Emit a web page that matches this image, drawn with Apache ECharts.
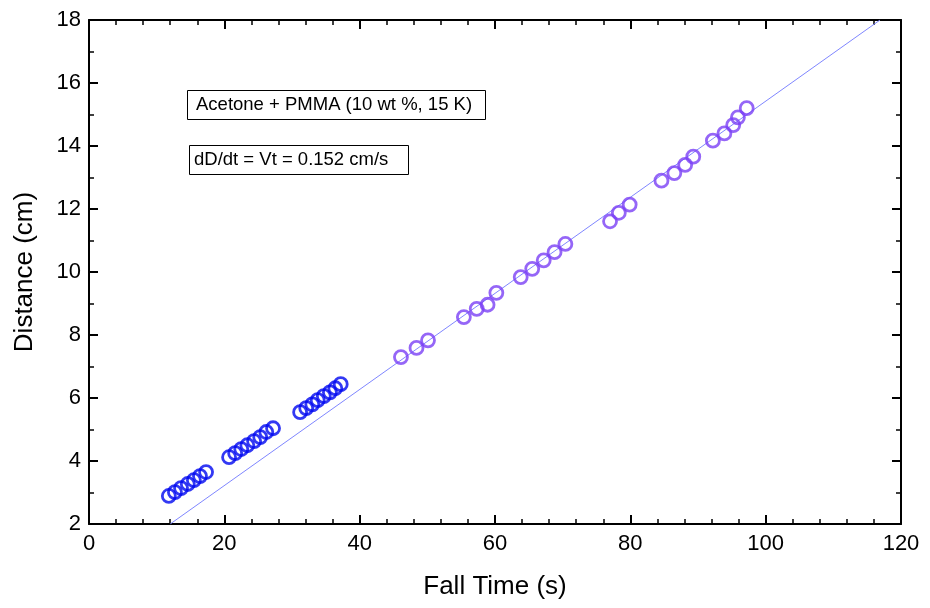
<!DOCTYPE html>
<html>
<head>
<meta charset="utf-8">
<script src="https://cdn.jsdelivr.net/npm/echarts@6/dist/echarts.min.js"></script>
<style>
  html, body { margin: 0; padding: 0; background: #fff; }
  #main { width: 930px; height: 608px; }
</style>
</head>
<body>
<div id="main"></div>
<script>
// first run (blue) - fall time (s), distance (cm)
var run1Time = [11.8, 12.7, 13.6, 14.6, 15.5, 16.4, 17.3,
                20.7, 21.6, 22.5, 23.4, 24.4, 25.3, 26.2, 27.2,
                31.2, 32.1, 33.0, 33.8, 34.7, 35.6, 36.4, 37.2];
var run1Dist = [2.89, 3.01, 3.14, 3.27, 3.39, 3.52, 3.65,
                4.12, 4.25, 4.38, 4.50, 4.63, 4.76, 4.92, 5.04,
                5.55, 5.68, 5.80, 5.93, 6.06, 6.18, 6.31, 6.44];
// second run (purple)
var run2Time = [46.1, 48.4, 50.1, 55.4, 57.3, 58.9, 60.2,
                63.8, 65.5, 67.2, 68.8, 70.4,
                77.0, 78.3, 79.9,
                84.6, 86.5, 88.1, 89.3,
                92.2, 93.9, 95.2, 95.9, 97.2];
var run2Dist = [7.30, 7.59, 7.83, 8.57, 8.83, 8.96, 9.34,
                9.84, 10.10, 10.37, 10.63, 10.89,
                11.61, 11.88, 12.14,
                12.90, 13.14, 13.40, 13.66,
                14.17, 14.40, 14.66, 14.91, 15.20];
// linear fit, dD/dt = 0.152 cm/s
var fitTime = [12.0, 116.9];
var fitDist = [2.0, 18.0];

function pairs(xs, ys) {
  var res = [];
  for (var i = 0; i < xs.length; i++) res.push([xs[i], ys[i]]);
  return res;
}

var FONT = '"Liberation Sans", Arial, sans-serif';
var axLine = { onZero: false, lineStyle: { color: '#000', width: 2 } };
var axTick = { inside: true, length: 9, lineStyle: { color: '#000', width: 2 } };
function minor(n) {
  return { show: true, splitNumber: n, length: 5, lineStyle: { color: '#000', width: 1.5 } };
}
var boxText = { fontFamily: FONT, fontSize: 18.5, fontWeight: 'normal', color: '#000', lineHeight: 20 };

var chart = echarts.init(document.getElementById('main'));
var option = {
  backgroundColor: '#fff',
  animation: false,
  grid: { left: 89, right: 29, top: 20, bottom: 84 },
  title: [{
    text: 'Acetone + PMMA (10 wt %, 15 K)',
    left: 187, top: 90,
    borderColor: '#000', borderWidth: 1,
    padding: [5, 14, 5, 9],
    textStyle: boxText
  }, {
    text: 'dD/dt = Vt = 0.152 cm/s',
    left: 189, top: 145,
    borderColor: '#000', borderWidth: 1,
    padding: [5, 20, 5, 5],
    textStyle: boxText
  }],
  xAxis: [{
    type: 'value', min: 0, max: 120, interval: 20,
    name: 'Fall Time (s)', nameLocation: 'middle', nameGap: 50,
    nameTextStyle: { fontFamily: FONT, fontSize: 26, color: '#000' },
    axisLine: axLine, axisTick: axTick, minorTick: minor(5),
    splitLine: { show: false },
    axisLabel: { fontFamily: FONT, fontSize: 22, color: '#000', margin: 9 }
  }, {
    type: 'value', min: 0, max: 120, interval: 20, position: 'top',
    axisLine: axLine, axisTick: axTick, minorTick: minor(5),
    splitLine: { show: false },
    axisLabel: { show: false }
  }],
  yAxis: [{
    type: 'value', min: 2, max: 18, interval: 2,
    name: 'Distance (cm)', nameLocation: 'middle', nameGap: 51,
    nameTextStyle: { fontFamily: FONT, fontSize: 26, color: '#000' },
    axisLine: axLine, axisTick: axTick, minorTick: minor(2),
    splitLine: { show: false },
    axisLabel: { fontFamily: FONT, fontSize: 22, color: '#000', margin: 8 }
  }, {
    type: 'value', min: 2, max: 18, interval: 2, position: 'right',
    axisLine: axLine, axisTick: axTick, minorTick: minor(2),
    splitLine: { show: false },
    axisLabel: { show: false }
  }],
  series: [{
    name: 'fit', type: 'line',
    data: pairs(fitTime, fitDist),
    symbol: 'none', clip: true,
    lineStyle: { color: '#7f86ff', width: 1 },
    z: 1
  }, {
    name: 'run 1', type: 'scatter',
    data: pairs(run1Time, run1Dist),
    symbol: 'circle', symbolSize: 13,
    itemStyle: { color: 'rgba(255,255,255,0)', borderColor: '#0008f0', borderWidth: 2.8 },
    z: 3
  }, {
    name: 'run 2', type: 'scatter',
    data: pairs(run2Time, run2Dist),
    symbol: 'circle', symbolSize: 13,
    itemStyle: { color: 'rgba(255,255,255,0)', borderColor: '#7a40f5', borderWidth: 2.8 },
    z: 3
  }]
};
chart.setOption(option);
</script>
</body>
</html>
